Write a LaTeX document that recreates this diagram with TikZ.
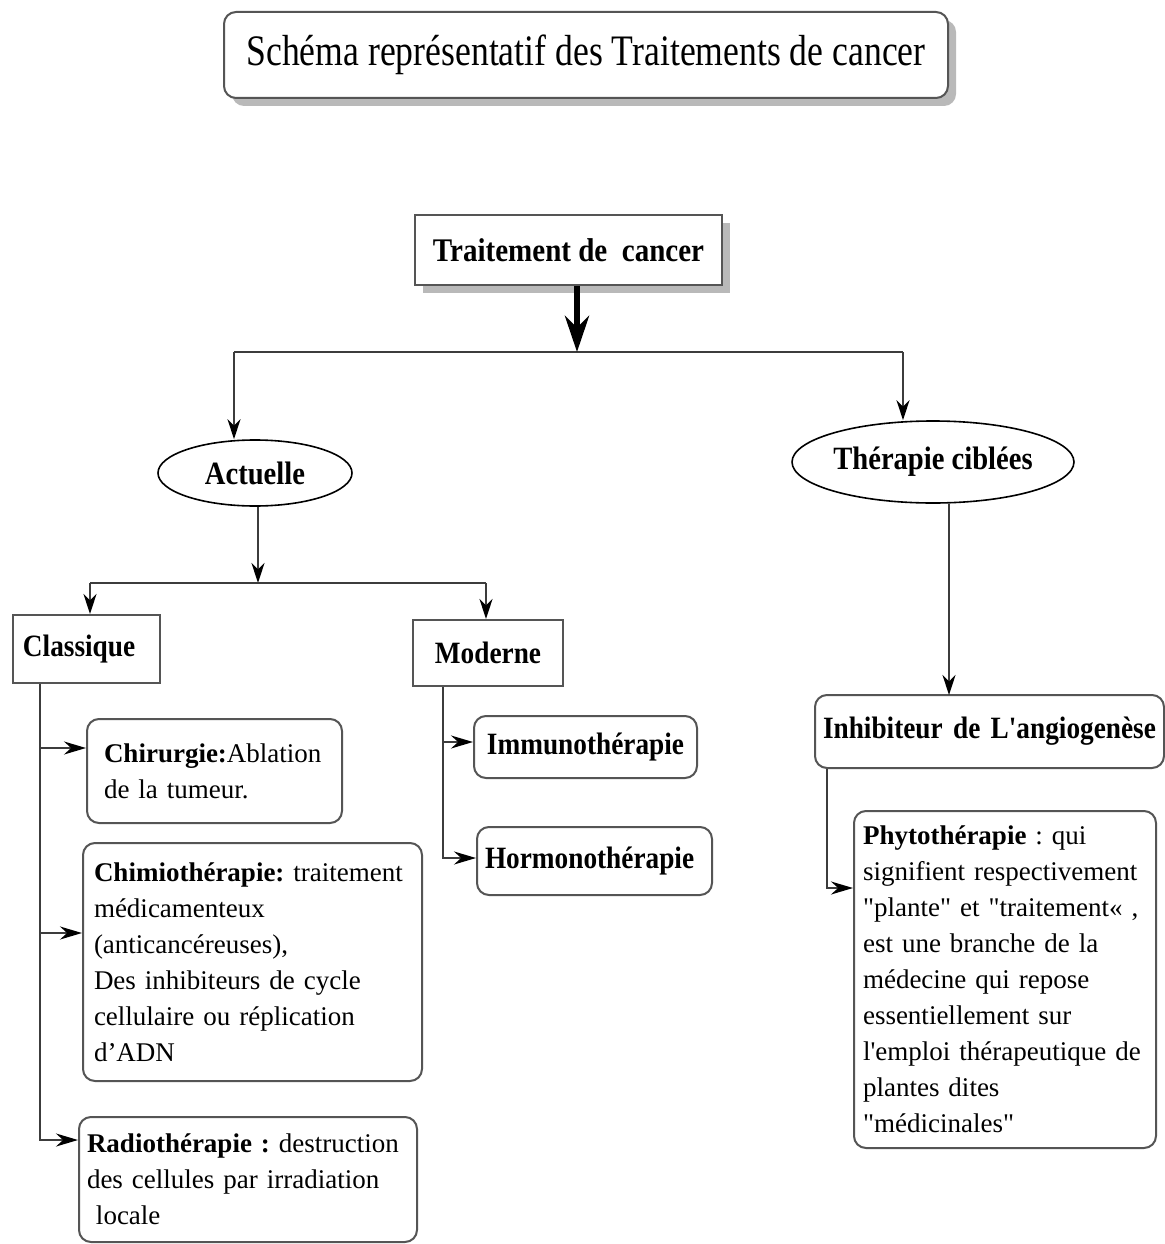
\documentclass[tikz,border=0pt]{standalone}
\usepackage{fontspec}
\setmainfont{Liberation Serif}
\newfontfamily\bodyfont{Liberation Serif}
\newfontfamily\titfont[FakeStretch=0.82]{Liberation Serif}
\newfontfamily\labfont[FakeStretch=0.88]{Liberation Serif}
\usetikzlibrary{arrows.meta,shapes.geometric,shadows,calc}
\definecolor{lc}{RGB}{60,60,60}
\definecolor{bc}{RGB}{85,85,85}
\tikzset{
  conn/.style={draw=lc, line width=2pt},
  arr/.style={conn, -{Stealth[length=20pt,width=13pt,color=black]}},
  harr/.style={conn, -{Stealth[length=22pt,width=13pt,color=black]}},
  thickarr/.style={draw=black, line width=6pt, -{Stealth[length=36pt,width=24pt]}},
  lab/.style={font=\labfont\bfseries\fontsize{31}{36}\selectfont},
  sqbox/.style={draw=bc, line width=2pt, fill=white, inner sep=0pt, lab},
  rbox/.style={sqbox, rounded corners=12pt},
  oval/.style={ellipse, draw=black, line width=1.6pt, inner sep=0pt, font=\labfont\bfseries\fontsize{32.5}{36}\selectfont},
  tbox/.style={draw=bc, line width=2pt, rounded corners=12pt, anchor=north west, align=left, inner ysep=0pt,
    font=\bodyfont\frenchspacing\fontsize{27}{36}\selectfont},
  shad/.style={drop shadow={shadow xshift=8pt, shadow yshift=-8pt, fill=gray!55, opacity=1}}
}
\begin{document}
\begin{tikzpicture}[x=1pt,y=-1pt]
\useasboundingbox[fill=white] (0,0) rectangle (1164,1244);

% title
\node[rbox, shad, minimum width=724pt, minimum height=86pt, font=\titfont\fontsize{43.5}{50}\selectfont] (title) at (586,55) {Schéma représentatif des Traitements de cancer};

% top node
\node[sqbox, shad, minimum width=307pt, minimum height=70pt, font=\labfont\bfseries\fontsize{33}{36}\selectfont] (trait) at (568.5,250) {Traitement de~ cancer};

% ellipses
\node[oval, minimum width=194pt, minimum height=66pt] (act) at (255,473) {Actuelle};
\node[oval, minimum width=230pt, minimum height=82pt] (ther) at (933,462) {Thérapie ciblées};

% second level boxes
\node[sqbox, anchor=west, inner xsep=10pt, text width=127pt, align=left, minimum height=68pt] (clas) at (12,649) {Classique};
\node[sqbox, minimum width=150pt, minimum height=66pt] (mod) at (488,653) {Moderne};
\node[rbox, minimum width=223pt, minimum height=62pt] (imm) at (585.5,747) {Immunothérapie};
\node[rbox, anchor=west, inner xsep=8pt, text width=219pt, align=left, minimum height=68pt] (horm) at (476,861) {Hormonothérapie};
\node[rbox, anchor=west, inner xsep=8pt, text width=333pt, align=left, minimum height=73pt] (inh) at (814,731.5) {\mbox{Inhibiteur de L'angiogenèse}};

% text boxes
\node[tbox, inner xsep=17pt, text width=221pt, minimum height=104pt] (chir) at (86,718)
  {\textbf{Chirurgie:}Ablation\\de la tumeur.};
\node[tbox, inner xsep=11pt, text width=317pt, minimum height=238pt] (chim) at (82,842)
  {\textbf{Chimiothérapie:} traitement\\médicamenteux\\(anticancéreuses),\\Des inhibiteurs de cycle\\cellulaire ou réplication\\d’ADN};
\node[tbox, inner xsep=8pt, text width=322pt, minimum height=125pt] (radio) at (78,1116)
  {\textbf{Radiothérapie :} destruction\\des cellules par irradiation\\\ locale};
\node[tbox, inner xsep=9pt, text width=284pt, minimum height=337pt] (phyto) at (853,810)
  {\textbf{Phytothérapie} : qui\\signifient respectivement\\"plante" et "traitement« ,\\est une branche de la\\médecine qui repose\\essentiellement sur\\l'emploi thérapeutique de\\plantes dites\\"médicinales"};

% junctions
\coordinate (j1) at (577,352);
\coordinate (jl) at (234,352);
\coordinate (jr) at (903,352);
\coordinate (j2) at (258,583);
\coordinate (j2l) at (90,583);
\coordinate (j2r) at (486,583);
\coordinate (c1) at (40,748);
\coordinate (c2) at (40,933);
\coordinate (c0) at (40,1140);
\coordinate (m1) at (443,742);
\coordinate (m0) at (443,858);
\coordinate (t1) at (949,695);
\coordinate (p1) at (827,888);

% connectors
\draw[conn] (jl) -- (jr);
\draw[thickarr] (trait.south -| j1) -- (j1);
\draw[arr] (jl) -- (jl |- act.north);
\draw[arr] (jr) -- (jr |- ther.north);

\draw[arr] (act.south -| j2) -- (j2);
\draw[conn] (j2l) -- (j2r);
\draw[arr] (j2l) -- (j2l |- clas.north);
\draw[arr] (j2r) -- (j2r |- mod.north);

\draw[harr] (clas.south -| c0) -- (c0) -- (c0 -| radio.west);
\draw[harr] (c1) -- (c1 -| chir.west);
\draw[harr] (c2) -- (c2 -| chim.west);

\draw[harr] (mod.south -| m0) -- (m0) -- (m0 -| horm.west);
\draw[harr] (m1) -- (m1 -| imm.west);

\draw[arr] (ther.south -| t1) -- (t1);
\draw[harr] (inh.south -| p1) -- (p1) -- (p1 -| phyto.west);
\end{tikzpicture}
\end{document}
